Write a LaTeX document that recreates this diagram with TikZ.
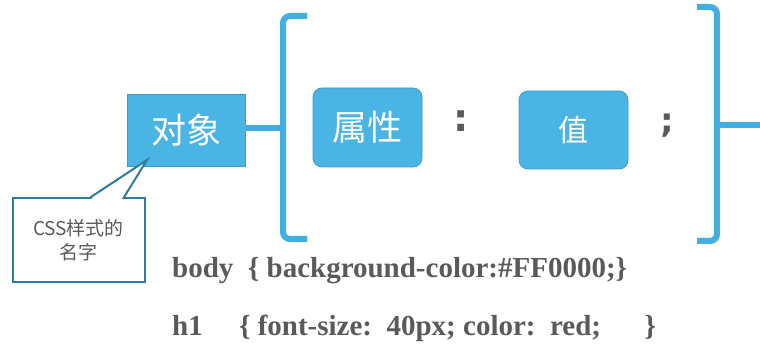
\documentclass[tikz,border=0pt]{standalone}
\usepackage{fontspec}
\setmainfont{Liberation Serif}
\newfontfamily\cjk{Noto Sans CJK SC}
\newfontfamily\dejab{DejaVu Sans Bold}
\definecolor{boxblue}{HTML}{4AB4E5}
\definecolor{boxedge}{HTML}{3C9DCC}
\definecolor{brblue}{HTML}{42AEE2}
\definecolor{calledge}{HTML}{2F7C9E}
\definecolor{txtgray}{HTML}{5A5A5A}
\begin{document}
\begin{tikzpicture}[x=1pt,y=-1pt,
  sqbox/.style={fill=boxblue,draw=boxedge,line width=0.8pt,inner sep=0pt,text=white,font=\cjk\fontsize{35}{37}\selectfont},
  rbox/.style={sqbox,rounded corners=9pt},
  brk/.style={draw=brblue,line width=6pt,rounded corners=7pt},
  conn/.style={draw=brblue,line width=6pt},
  code/.style={anchor=base west,inner sep=0pt,text=txtgray,font=\bfseries\fontsize{29}{31}\selectfont},
  punct/.style={text=txtgray,inner sep=0pt,font=\dejab\fontsize{38}{40}\selectfont}]
\useasboundingbox (0,0) rectangle (760,347);
% boxes
\node[sqbox,minimum width=118pt,minimum height=72pt] (obj) at (186,130) {对象};
\node[rbox,minimum width=109pt,minimum height=79pt] (prop) at (367.5,127.5) {属性};
\node[rbox,minimum width=109pt,minimum height=78pt,font=\cjk\fontsize{30}{32}\selectfont] (val) at (573.5,130) {值};
\node[punct] (colon) at (461,121) {:};
\node[punct,font=\dejab\fontsize{34}{36}\selectfont] (semi) at (667,126) {;};
% brackets
\coordinate (ltip) at (283,128);
\coordinate (rtip) at (717,125);
\coordinate (redge) at (760,125);
\draw[brk] (307,16) -- (283,16) -- (283,239) -- (307,239);
\draw[brk] (697,7) -- (717,7) -- (717,241) -- (697,241);
\draw[conn] (obj.east |- ltip) -- (ltip);
\draw[conn] (rtip) -- (redge);
% callout
\node[draw=calledge,line width=2pt,fill=white,minimum width=132pt,minimum height=84pt,inner sep=0pt,
  align=center,text=txtgray,font=\cjk\fontsize{19}{24}\selectfont] (call) at (78.5,240) {CSS样式的\\名字};
\coordinate (ctip) at (147,160);
\coordinate (cb1) at (90,198);
\coordinate (cb2) at (123,198);
\fill[white] (cb1) -- (ctip) -- (cb2) -- cycle;
\fill[white] ([xshift=1.5pt,yshift=-1.5pt]cb1) rectangle ([xshift=-1.5pt,yshift=1.2pt]cb2);
\draw[calledge,line width=2pt,line join=miter] ([xshift=-0.5pt]cb1) -- (ctip) -- ([xshift=0.5pt]cb2);
% code
\node[code] (l1) at (172,278) {body\ \ \{ background-color:\#FF0000;\}};
\node[code] (l2) at (172,335) {h1\ \ \ \ \ \{ font-size:\ \ 40px; color:\ \ red;\ \ \ \ \ \ \}};
\end{tikzpicture}
\end{document}
